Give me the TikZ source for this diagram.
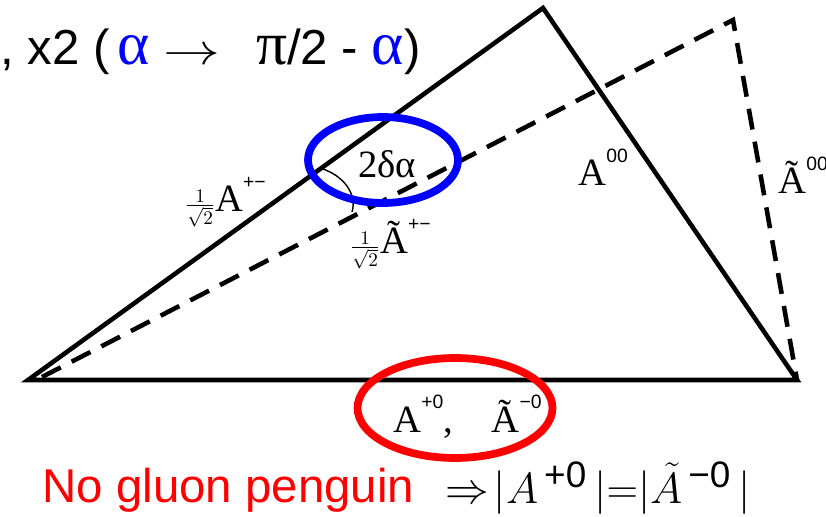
\documentclass[tikz,border=0pt]{standalone}
\usepackage{amsmath}
\usepackage{fontspec}
\setmainfont{Liberation Serif}
\setsansfont{Liberation Sans}
\usetikzlibrary{shapes.geometric}
\newcommand{\isq}{$\scriptstyle\frac{1}{\sqrt{2}}$}
\newcommand{\sups}[1]{\raisebox{0.6em}{\sffamily\fontsize{11}{11}\selectfont #1}}
\newcommand{\grk}[1]{{\rmfamily\fontsize{35}{35}\selectfont #1}}
\begin{document}
\begin{tikzpicture}[x=0.02cm, y=-0.02cm,
		side/.style={line width=2.6pt, line join=miter},
		flipped/.style={line width=2.6pt, dash pattern=on 12pt off 7pt},
		amp/.style={anchor=base west, inner sep=0pt, font=\fontsize{22}{24}\selectfont},
		ring/.style={ellipse, draw, line width=4.4pt, inner sep=0pt}]
	\useasboundingbox (0,0) rectangle (826,517);
	% vertices
	\coordinate (L) at (28,380);
	\coordinate (T) at (543,8);
	\coordinate (R) at (797,380);
	\coordinate (Lt) at (42,377);
	\coordinate (Tt) at (733,20);
	% triangles
	\draw[side] (L) -- (T) -- (R) -- cycle;
	\draw[flipped] (Lt) -- (Tt) -- (R);
	% angle
	\coordinate (a1) at (320,168);
	\coordinate (a2) at (352,212);
	\draw[line width=0.8pt] (a1) .. controls (346,176) and (357,196) .. (a2);
	% labels
	\node[amp] (apm) at (185,212) {\isq A\sups{+−}};
	\node[amp] (dal) at (358,178) {2δα};
	\node[amp] (tapm) at (350,254) {\isq Ã\sups{+−}};
	\node[amp] (a00) at (578,186) {A\sups{00}};
	\node[amp] (ta00) at (778,194) {Ã\sups{00}};
	\node[amp] (apz) at (393,432) {A\sups{+0},\quad Ã\sups{−0}};
	\node[ring, draw=blue, minimum width=3cm, minimum height=1.72cm] (hl) at (383,160) {};
	\node[ring, draw=red, minimum width=3.9cm, minimum height=2cm] (hz) at (455,408) {};
	% captions
	\node[anchor=base west, inner sep=0pt, font=\sffamily\fontsize{28}{30}\selectfont] (head) at (0,65)
		{, x2 (\,\textcolor{blue}{\grk{α}}\;\scalebox{1.3}[1]{$\rightarrow$}\;\, \grk{π}/2 - \textcolor{blue}{\grk{α}})};
	\node[anchor=base west, inner sep=0pt, text=red, font=\sffamily\fontsize{27}{29}\selectfont] (ngp) at (42,502)
		{No gluon penguin};
	\node[anchor=base west, inner sep=0pt, font=\fontsize{30}{32}\selectfont] (rel) at (445,503)
		{$\Rightarrow\!|A^{\,\textsf{\mdseries +0}}\,|{=}|\tilde{A}^{\,\textsf{−0}}\,|$};
\end{tikzpicture}
\end{document}
